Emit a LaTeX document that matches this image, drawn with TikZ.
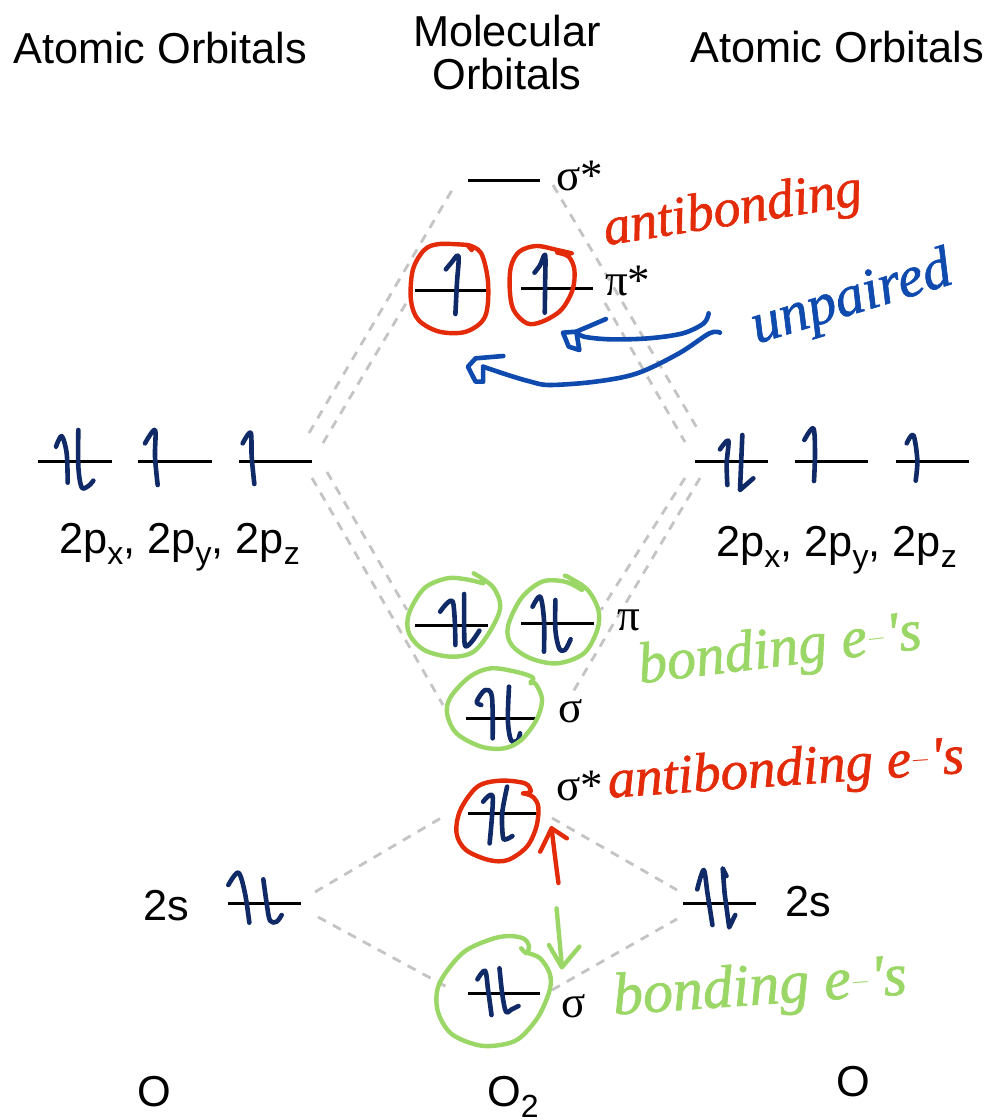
\documentclass[tikz,border=0pt]{standalone}
\usepackage{fontspec}
\setmainfont{Liberation Sans}
\newfontfamily\serifgreek{Liberation Serif}
\newfontfamily\handfont[FakeBold=1.2]{Liberation Serif Italic}
\usetikzlibrary{calc}
\definecolor{navyink}{HTML}{0F2A66}
\definecolor{redink}{HTML}{E32B0A}
\definecolor{blueink}{HTML}{0F4AAE}
\definecolor{greenink}{HTML}{9BD766}
\definecolor{dashgray}{HTML}{C4C4C4}
\tikzset{
  level/.style={line width=3pt},
  dashlink/.style={dashgray,line width=2.8pt,dash pattern=on 9pt off 8pt},
  spin/.style={navyink,line width=4.6pt,line cap=round,line join=round},
  inkred/.style={redink,line width=4.4pt,line cap=round,line join=round},
  inkgreen/.style={greenink,line width=4.4pt,line cap=round,line join=round},
  inkblue/.style={blueink,line width=4.6pt,line cap=round,line join=round},
  sans/.style={inner sep=0pt,font=\fontsize{43.3}{46}\selectfont},
  greek/.style={inner sep=0pt,anchor=base west,font=\serifgreek\fontsize{45}{48}\selectfont},
  hand/.style={inner sep=0pt,font=\handfont\fontsize{#1}{#1}\selectfont},
  zA/.style={shift={(390pt,-150pt)},x=0.38023pt,y=-0.33333pt},
  zB/.style={shift={(390pt,-570pt)},x=0.38023pt,y=-0.33333pt},
  zC/.style={shift={(390pt,-850pt)},x=0.38023pt,y=-0.33333pt},
  zD/.style={shift={(20pt,-410pt)},x=0.33333pt,y=-0.33333pt},
  zE/.style={shift={(680pt,-410pt)},x=0.33333pt,y=-0.33333pt},
  zF/.style={shift={(130pt,-850pt)},x=0.33333pt,y=-0.33333pt},
}
\newcommand{\stroke}[2]{\draw[#1] plot[smooth,tension=0.55] coordinates {#2};}
\newcommand{\subsc}[1]{\raisebox{-0.27em}{\fontsize{32}{33}\selectfont #1}}
\begin{document}
\begin{tikzpicture}[x=1pt,y=-1pt]
\useasboundingbox[fill=white] (0,0) rectangle (987,1120);

% named ends of the dashed links
\foreach \n/\x/\y in {
 u1/309/433, u2/455/185, u3/323/443, u4/408/300,
 u5/553/185, u6/700/433, u7/605/303, u8/685/442,
 m1/312/478, m2/443/705, m3/327/472, m4/407/610,
 m5/700/478, m6/570/697, m7/685/478, m8/601/610,
 s1/315/892, s2/441/818, s3/318/917, s4/447/987,
 s5/552/818, s6/677/890, s7/552/990, s8/677/919}
  {\coordinate (\n) at (\x,\y);}
\draw[dashlink] (u1)--(u2); \draw[dashlink] (u3)--(u4);
\draw[dashlink] (u5)--(u6); \draw[dashlink] (u7)--(u8);
\draw[dashlink] (m1)--(m2); \draw[dashlink] (m3)--(m4);
\draw[dashlink] (m5)--(m6); \draw[dashlink] (m7)--(m8);
\draw[dashlink] (s1)--(s2); \draw[dashlink] (s3)--(s4);
\draw[dashlink] (s5)--(s6); \draw[dashlink] (s7)--(s8);

% energy levels
\foreach \a/\b/\y in {468/540/180, 415/487/290, 521/593/288,
  38/112/461, 138/212/461, 239/312/461, 695/768/461, 795/868/461, 896/969/461,
  415/488/625, 521/594/623, 466/537/718, 468/540/813,
  228/301/903, 683/756/903, 468/540/993}
  {\draw[level] (\a,\y)--(\b,\y);}

% electrons and ink, pi* region
\begin{scope}[zA]
\stroke{spin}{(147,358)(160,340)(180,318)(176,400)(172,492)}
\stroke{spin}{(380,368)(395,345)(408,315)(408,400)(407,488)}
\stroke{inkred}{(215,300)(205,285)(240,310)(258,400)(250,500)(200,545)(130,545)(75,510)(55,450)(60,360)(90,300)(130,282)(205,285)}
\stroke{inkred}{(478,310)(440,300)(385,288)(340,305)(318,350)(315,420)(325,480)(360,520)(400,515)(450,480)(480,420)(485,360)(470,320)(440,308)}
\stroke{inkblue}{(838,490)(825,520)(770,550)(680,565)(580,568)(510,560)(490,545)}
\draw[inkblue] (568,507)--(490,545)--(455,548)--(470,590)--(498,600)--(490,545);
\stroke{inkblue}{(868,548)(840,550)(760,610)(650,670)(540,695)(420,705)(370,695)(310,675)(245,650)}
\draw[inkblue] (298,618)--(225,625)--(205,650)--(225,695)--(245,695)--(245,650);
\end{scope}

% AO electrons
\begin{scope}[zD]
\stroke{spin}{(108,110)(125,78)(140,130)(143,218)}
\stroke{spin}{(175,60)(175,170)(185,232)(205,228)(220,212)}
\stroke{spin}{(375,100)(405,60)(405,140)(413,225)}
\stroke{spin}{(668,100)(692,68)(695,140)(703,222)}
\end{scope}
\begin{scope}[zE]
\stroke{spin}{(120,118)(145,92)(140,160)(142,225)}
\draw[spin] (187,75)--(183,170)--(180,240)--(220,205);
\stroke{spin}{(373,90)(400,55)(405,130)(402,213)}
\stroke{spin}{(680,100)(700,75)(712,150)(707,212)}
\end{scope}

% middle ink
\begin{scope}[zB]
\stroke{spin}{(132,125)(165,95)(172,225)}
\stroke{spin}{(195,72)(195,180)(198,228)(215,215)(235,182)}
\stroke{spin}{(375,110)(395,80)(405,150)(405,245)}
\stroke{spin}{(435,90)(435,180)(445,235)(460,240)(475,208)}
\stroke{spin}{(240,405)(228,395)(250,360)(268,380)(270,505)}
\stroke{spin}{(313,350)(310,450)(318,510)(335,512)(342,490)}
\stroke{spin}{(245,695)(270,680)(262,820)}
\stroke{spin}{(308,650)(295,730)(297,800)(305,808)(322,798)}
\stroke{inkgreen}{(245,40)(200,28)(150,25)(90,55)(50,130)(50,190)(90,240)(160,260)(220,245)(265,180)(290,110)(270,50)(220,10)}
\stroke{inkgreen}{(505,60)(460,35)(400,35)(345,85)(310,170)(320,225)(370,265)(440,280)(510,250)(545,180)(548,120)(520,60)(475,25)(460,17)}
\stroke{inkgreen}{(370,340)(375,322)(330,305)(265,295)(210,320)(160,380)(150,430)(175,490)(240,530)(300,535)(345,510)(385,450)(400,390)(385,345)(370,335)}
\stroke{inkred}{(350,670)(370,665)(355,640)(290,632)(230,650)(185,720)(175,790)(200,840)(260,870)(310,870)(360,830)(385,770)(390,710)(375,680)(350,670)}
\draw[inkred] (395,845)--(425,775)--(465,805);
\stroke{inkred}{(425,775)(434,860)(443,939)}
\end{scope}
\begin{scope}[zC]
\stroke{spin}{(808,118)(825,60)(835,130)(848,225)}
\draw[spin] (885,78)--(875,55)--(880,130)--(892,232)--(908,195);
\stroke{spin}{(230,388)(250,362)(258,420)(267,495)}
\stroke{spin}{(288,355)(295,430)(305,485)(320,478)(338,468)}
\stroke{inkgreen}{(345,295)(360,310)(365,285)(350,265)(310,258)(260,270)(190,310)(130,400)(125,480)(160,550)(230,585)(290,585)(340,565)(390,500)(420,420)(420,370)(395,325)(365,310)}
\stroke{inkgreen}{(438,175)(445,260)(452,350)}
\draw[inkgreen] (418,285)--(452,352)--(498,290);
\end{scope}
\begin{scope}[zF]
\stroke{spin}{(295,105)(325,68)(345,130)(358,218)}
\stroke{spin}{(400,88)(410,160)(420,212)(440,215)(455,195)}
\end{scope}

% printed labels
\node[sans] (aoL) at (160,48) {Atomic Orbitals};
\node[sans] (aoR) at (837,47) {Atomic Orbitals};
\node[sans] (mo1) at (507,31) {Molecular};
\node[sans] (mo2) at (507,74) {Orbitals};
\node[sans,anchor=base west] (pL) at (59,553) {2p\subsc{x}, 2p\subsc{y}, 2p\subsc{z}};
\node[sans,anchor=base west] (pR) at (716,556) {2p\subsc{x}, 2p\subsc{y}, 2p\subsc{z}};
\node[sans,anchor=base west] (sL) at (143,920) {2s};
\node[sans,anchor=base west] (sR) at (785,916) {2s};
\node[sans] (oL) at (154,1092) {O};
\node[sans] (oR) at (853,1082) {O};
\node[sans,anchor=base west] (o2) at (487,1106) {O\subsc{2}};
\node[greek] (g1) at (556,190) {σ*};
\node[greek] (g2) at (605,295) {π*};
\node[greek] (g3) at (617,630) {π};
\node[greek] (g4) at (558,722) {σ};
\node[greek] (g5) at (556,800) {σ*};
\node[greek] (g6) at (561,1017) {σ};

% handwritten labels
\node[hand=54,text=redink,rotate=9] (hw1) at (733,212) {antibonding};
\node[hand=58,text=blueink,rotate=17] (hw2) at (852,300) {unpaired};
\node[hand=58,text=greenink,rotate=7] (hw3) at (780,652) {bonding e$^{-}$'s};
\node[hand=55,text=redink,rotate=4] (hw4) at (786,772) {antibonding e$^{-}$'s};
\node[hand=60,text=greenink,rotate=4] (hw5) at (760,990) {bonding e$^{-}$'s};
\end{tikzpicture}
\end{document}
